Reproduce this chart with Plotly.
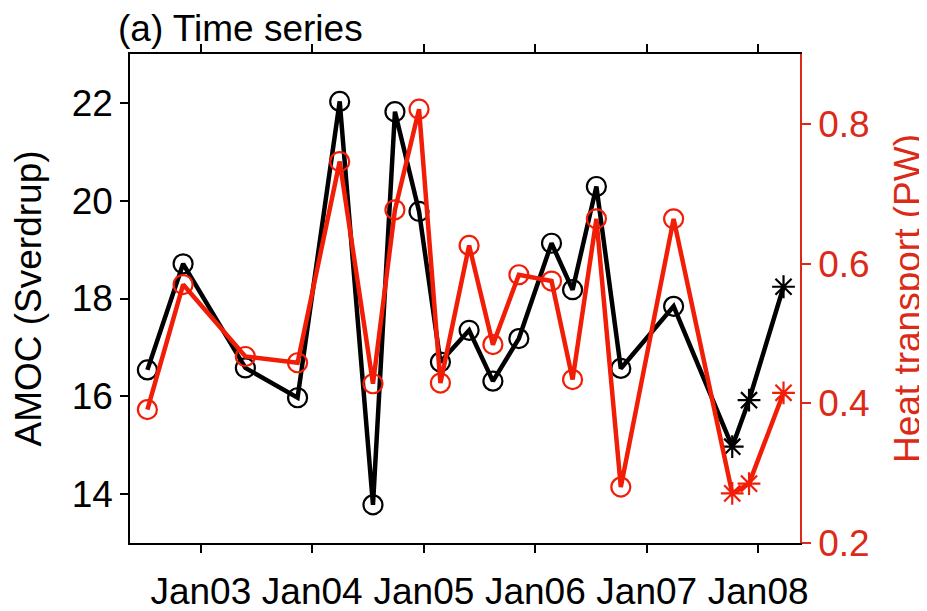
import plotly.graph_objects as go

# ---- data ----
dates = [
    "2002-07-10", "2002-11-04", "2003-05-27", "2003-11-14", "2004-03-31",
    "2004-07-18", "2004-09-28", "2004-12-16", "2005-02-24", "2005-05-29",
    "2005-08-15", "2005-11-08", "2006-02-23", "2006-05-03", "2006-07-20",
    "2006-10-08", "2007-03-30", "2007-10-08", "2007-12-02", "2008-03-24",
]
amoc = [16.54, 18.71, 16.58, 15.97, 22.03, 13.78, 21.82, 19.78, 16.70, 17.35,
        16.31, 17.18, 19.13, 18.18, 20.29, 16.57, 17.84, 14.97, 15.92, 18.24]
heat = [0.391, 0.570, 0.467, 0.458, 0.746, 0.428, 0.677, 0.821, 0.429, 0.626,
        0.484, 0.584, 0.575, 0.434, 0.664, 0.280, 0.664, 0.271, 0.285, 0.415]
n_circle = 17  # first points drawn with circles, the rest with asterisks

x_tickvals = ["2003-01-01", "2004-01-01", "2005-01-01", "2006-01-01", "2007-01-01", "2008-01-01"]
x_ticktext = ["Jan03", "Jan04", "Jan05", "Jan06", "Jan07", "Jan08"]
amoc_ticks = [14, 16, 18, 20, 22]
heat_ticks = [0.2, 0.4, 0.6, 0.8]

# ---- styling ----
FONT = "Liberation Sans, Arial, Helvetica, sans-serif"
FS = 37
RED = "#f21d06"
RED_AX = "#dc2a18"
symbols = ["circle-open"] * n_circle + ["asterisk-open"] * (len(dates) - n_circle)

fig = go.Figure()
fig.add_trace(go.Scatter(
    x=dates, y=amoc, mode="lines+markers", yaxis="y",
    line=dict(color="black", width=4.5),
    marker=dict(symbol=symbols, size=19, color="black", line=dict(width=2.2, color="black")),
    showlegend=False,
))
fig.add_trace(go.Scatter(
    x=dates, y=heat, mode="lines+markers", yaxis="y2",
    line=dict(color=RED, width=4.5),
    marker=dict(symbol=symbols, size=19, color=RED, line=dict(width=2.2, color=RED)),
    showlegend=False,
))

# the page adds an 8px body margin, so margins are compensated
fig.update_layout(
    width=927, height=611, autosize=False,
    margin=dict(l=122, r=135, t=46, b=76, autoexpand=False),
    paper_bgcolor="white", plot_bgcolor="white",
    font=dict(family=FONT, size=FS, color="black"),
    title=dict(text="(a) Time series", x=110 / 927, xanchor="left",
               y=1 - 20 / 611, yanchor="middle", yref="container",
               font=dict(family=FONT, size=FS, color="black")),
    xaxis=dict(
        type="date", range=["2002-05-14", "2008-05-17"],
        tickvals=x_tickvals, ticktext=x_ticktext,
        ticks="outside", ticklen=8, tickwidth=1.5, tickcolor="black",
        showline=True, linecolor="black", linewidth=1.5, mirror="ticks",
        showgrid=False, zeroline=False, automargin=False,
        tickfont=dict(family=FONT, size=FS, color="black"),
        ticklabelstandoff=7,
    ),
    yaxis=dict(
        range=[13, 23], tickvals=amoc_ticks,
        ticks="outside", ticklen=8, tickwidth=1.5, tickcolor="black",
        showline=True, linecolor="black", linewidth=1.5,
        showgrid=False, zeroline=False, automargin=False,
        tickfont=dict(family=FONT, size=FS, color="black"),
        title=dict(text="AMOC (Sverdrup)", standoff=25,
                   font=dict(family=FONT, size=FS, color="black")),
    ),
    yaxis2=dict(
        overlaying="y", side="right", anchor="x",
        range=[0.2, 0.9], tickvals=heat_ticks, tickformat=".1f",
        ticks="outside", ticklen=9, tickwidth=1.5, tickcolor=RED_AX,
        showline=True, linecolor=RED_AX, linewidth=1.5,
        showgrid=False, zeroline=False, automargin=False,
        tickfont=dict(family=FONT, size=FS, color=RED_AX),
        title=dict(text="Heat transport (PW)", standoff=26,
                   font=dict(family=FONT, size=FS, color=RED_AX)),
    ),
)

fig.write_html("out.html")
